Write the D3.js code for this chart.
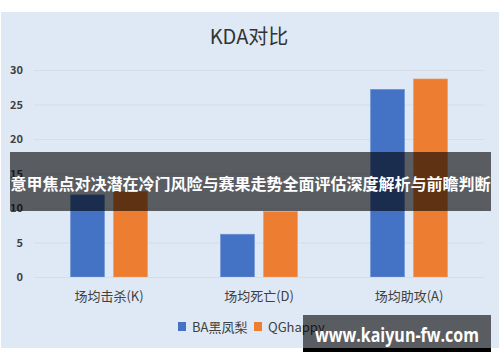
<!DOCTYPE html>
<html><head><meta charset="utf-8">
<script src="https://cdn.jsdelivr.net/npm/d3@7"></script>
<style>body{margin:0;background:#fff;}svg{display:block;}</style>
</head><body>
<svg id="c" width="500" height="362"></svg>
<script>
const title = "KDA对比";
const categories = ["场均击杀(K)", "场均死亡(D)", "场均助攻(A)"];
const seriesNames = ["BA黑凤梨", "QGhappy"];
const seriesA = [11.9, 6.2, 27.2];
const seriesB = [12.4, 9.5, 28.7];
const yTicks = [0, 5, 10, 15, 20, 25, 30];
const colors = ["#4472c4", "#ed7d31"];
const bannerText = "意甲焦点对决潜在冷门风险与赛果走势全面评估深度解析与前瞻判断";
const watermark = "www.kaiyun-fw.com";

const svg = d3.select("#c");
const font = "'Noto Sans CJK SC','Noto Sans',sans-serif";

svg.append("rect").attr("x", 1).attr("y", 12).attr("width", 498).attr("height", 336).attr("fill", "#dee9f5");

svg.append("text").attr("x", 249).attr("y", 44).attr("text-anchor", "middle")
  .attr("font-family", font).attr("font-size", 20).attr("fill", "#333").text(title);

const x0 = d3.scaleBand().domain(categories).range([34, 484]).paddingInner(0).paddingOuter(0);
const y = d3.scaleLinear().domain([0, 30]).range([277, 70]);

const gy = svg.append("g").attr("transform", "translate(34,0)")
  .call(d3.axisLeft(y).tickValues(yTicks).tickSize(-450).tickPadding(11));
gy.select(".domain").remove();
gy.selectAll(".tick line").attr("stroke", "#d5dde6").attr("stroke-width", 1);
gy.selectAll(".tick text").attr("font-family", font).attr("font-size", 11).attr("font-weight", "bold").attr("fill", "#404040");

const data = categories.map((c, i) => ({cat: c, vals: [seriesA[i], seriesB[i]]}));
const barW = 34, gap = 9;
const g = svg.append("g");
data.forEach(d => {
  const cx = x0(d.cat) + x0.bandwidth() / 2;
  d.vals.forEach((v, j) => {
    const bx = j === 0 ? cx - gap / 2 - barW : cx + gap / 2;
    g.append("rect").attr("x", bx).attr("y", y(v)).attr("width", barW).attr("height", y(0) - y(v))
      .attr("fill", colors[j]).attr("stroke", j === 0 ? "#6f93d3" : "#f29a5e").attr("stroke-width", 0.6);
  });
});

const gx = svg.append("g").attr("transform", "translate(0,277)")
  .call(d3.axisBottom(x0).tickSize(0).tickPadding(15));
gx.select(".domain").attr("stroke", "#d5dde6");
gx.selectAll(".tick text").attr("font-family", font).attr("font-size", 13).attr("fill", "#404040");

// legend
const leg = svg.append("g").attr("font-family", font).attr("font-size", 13).attr("fill", "#404040");
const legX = [178, 254];
seriesNames.forEach((n, i) => {
  leg.append("rect").attr("x", legX[i]).attr("y", 322).attr("width", 8).attr("height", 9).attr("fill", colors[i]);
  leg.append("text").attr("x", legX[i] + 14).attr("y", 332).attr("fill", "#404040").text(n);
});

// banner overlay
svg.append("rect").attr("x", 10).attr("y", 152).attr("width", 481).attr("height", 59).attr("fill", "rgba(0,0,0,0.6)");
svg.append("text").attr("x", 250.5).attr("y", 190).attr("text-anchor", "middle")
  .attr("font-family", font).attr("font-size", 16).attr("font-weight", "bold").attr("fill", "#fff")
  .attr("textLength", 480).attr("lengthAdjust", "spacingAndGlyphs").text(bannerText);

// watermark
svg.append("rect").attr("x", 303).attr("y", 348).attr("width", 188).attr("height", 4).attr("fill", "#000");
svg.append("rect").attr("x", 303).attr("y", 315).attr("width", 188).attr("height", 34).attr("fill", "rgba(0,0,0,0.6)");
svg.append("text").attr("x", 397).attr("y", 342).attr("text-anchor", "middle")
  .attr("font-family", "'Open Sans','Noto Sans',sans-serif").attr("font-size", 19).attr("font-weight", "bold").attr("fill", "#fff")
  .attr("textLength", 164).attr("lengthAdjust", "spacingAndGlyphs")
  .text(watermark);
</script>
</body></html>
